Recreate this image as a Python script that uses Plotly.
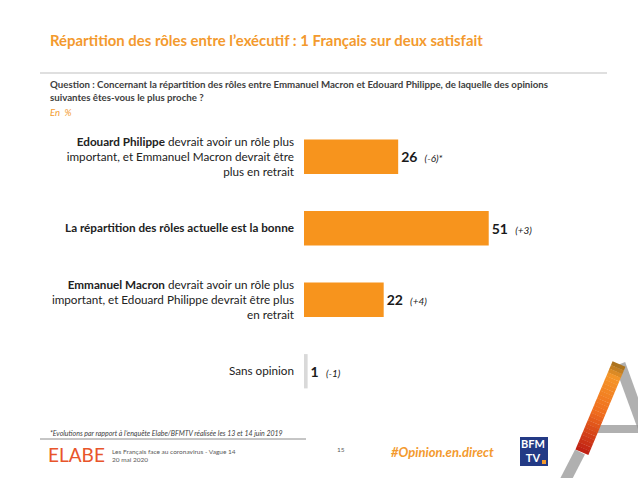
import plotly.graph_objects as go

# ---- data ----
categories = [
    "<b>Edouard Philippe</b> devrait avoir un rôle plus<br>important, et Emmanuel Macron devrait être<br>plus en retrait",
    "<b>La répartition des rôles actuelle est la bonne</b>",
    "<b>Emmanuel Macron</b> devrait avoir un rôle plus<br>important, et Edouard Philippe devrait être plus<br>en retrait",
    "Sans opinion",
]
values = [26, 51, 22, 1]
evolutions = ["(-6)*", "(+3)", "(+4)", "(-1)"]

title_text = "<b>Répartition des rôles entre l’exécutif : 1 Français sur deux satisfait</b>"
question_text = ("<b>Question : Concernant la répartition des rôles entre Emmanuel Macron et Edouard Philippe, "
                 "de laquelle des opinions<br>suivantes êtes-vous le plus proche ?</b>")
unit_text = "<i>En  %</i>"
footnote_text = "<i>*Evolutions par rapport à l’enquête Elabe/BFMTV réalisée les 13 et 14 juin 2019</i>"
source_text = "Les Français face au coronavirus - Vague 14<br>20 mai 2020"
page_text = "15"
hashtag_text = "<b><i>#Opinion.en.direct</i></b>"

ORANGE = "#F7941D"
GREY_BAR = "#D9D9D9"
FONT = "Lato"

W, H = 638, 478
L, R, T, B = 304, 8, 121, 71
PW, PH = W - L - R, H - T - B


def px(x):
    return (x - L) / PW


def py(y):
    return 1 - (y - T) / PH


bar_colors = [ORANGE, ORANGE, ORANGE, GREY_BAR]
bar_text = [f"<b>{v}</b>  <span style='font-size:10px'><i>{e}</i></span>" for v, e in zip(values, evolutions)]

fig = go.Figure()
fig.add_trace(go.Bar(
    x=values,
    y=list(range(len(categories))),
    orientation="h",
    marker=dict(color=bar_colors, line=dict(width=0)),
    width=0.48,
    text=bar_text,
    textposition="outside",
    textfont=dict(family=FONT, size=14, color="#1a1a1a"),
    constraintext="none",
    cliponaxis=False,
    hoverinfo="skip",
))

fig.update_layout(
    width=W, height=H,
    margin=dict(l=L, r=R, t=T, b=B, pad=0),
    paper_bgcolor="white", plot_bgcolor="white",
    showlegend=False,
    font=dict(family=FONT, color="#222222"),
    xaxis=dict(range=[0, 90], visible=False, fixedrange=True),
    yaxis=dict(
        range=[3.5, -0.5],
        tickmode="array",
        tickvals=list(range(len(categories))),
        ticktext=categories,
        tickfont=dict(family=FONT, size=11.7, color="#222222"),
        showgrid=False, zeroline=False, showline=False,
        ticks="", ticklabelstandoff=9,
        fixedrange=True,
    ),
)

ann = []
ann.append(dict(text=title_text, x=px(48), y=py(40), xanchor="left", yanchor="middle",
                font=dict(family=FONT, size=14.9, color="#F39A2E")))
ann.append(dict(text=question_text, x=px(48), y=py(91), xanchor="left", yanchor="middle", align="left",
                font=dict(family=FONT, size=9.7, color="#404040")))
ann.append(dict(text=unit_text, x=px(48), y=py(112), xanchor="left", yanchor="middle",
                font=dict(family=FONT, size=9.5, color="#F39A2E")))
ann.append(dict(text=footnote_text, x=px(48), y=py(433), xanchor="left", yanchor="middle",
                font=dict(family=FONT, size=7, color="#404040")))
ann.append(dict(text="ELABE", x=px(46), y=py(454), xanchor="left", yanchor="middle",
                font=dict(family=FONT, size=19, color="#E8552B")))
ann.append(dict(text=source_text, x=px(110), y=py(455), xanchor="left", yanchor="middle", align="left",
                font=dict(family=FONT, size=6.5, color="#595959")))
ann.append(dict(text=page_text, x=px(335), y=py(449), xanchor="left", yanchor="middle",
                font=dict(family=FONT, size=6.5, color="#595959")))
ann.append(dict(text=hashtag_text, x=px(389), y=py(452), xanchor="left", yanchor="middle",
                font=dict(family=FONT, size=13, color="#F39A2E")))
ann.append(dict(text="<b>BFM<br>TV</b>", x=px(533), y=py(451), xanchor="center", yanchor="middle",
                font=dict(family=FONT, size=11, color="white")))
for a in ann:
    a.update(xref="paper", yref="paper", showarrow=False)
fig.update_layout(annotations=ann)

shapes = []
# separator line under title
shapes.append(dict(type="line", x0=px(40), x1=px(607), y0=py(73), y1=py(73),
                   line=dict(color="#BFBFBF", width=1)))
# footnote underline
shapes.append(dict(type="line", x0=px(40), x1=px(306), y0=py(439), y1=py(439),
                   line=dict(color="#8C8C8C", width=1)))
# BFM TV logo box
shapes.append(dict(type="rect", x0=px(520), x1=px(548), y0=py(466), y1=py(437),
                   fillcolor="#233A85", line=dict(width=0)))
shapes.append(dict(type="rect", x0=px(542), x1=px(546), y0=py(464), y1=py(460),
                   fillcolor="#F39A2E", line=dict(width=0)))
# decorative "A" logo
grey = "rgba(150,150,150,0.75)"
shapes.append(dict(type="line", x0=px(620), y0=py(364), x1=px(644), y1=py(430),
                   line=dict(color=grey, width=11)))
shapes.append(dict(type="line", x0=px(580), y0=py(452), x1=px(563), y1=py(485),
                   line=dict(color=grey, width=11)))
shapes.append(dict(type="line", x0=px(594), y0=py(429), x1=px(640), y1=py(429),
                   line=dict(color=grey, width=8)))


def mix(c1, c2, t):
    return "rgb(%d,%d,%d)" % tuple(round(a + (b - a) * t) for a, b in zip(c1, c2))


stops = [(0.0, (160, 110, 30)), (0.15, (245, 150, 40)), (0.55, (240, 110, 30)), (1.0, (190, 30, 20))]
n = 24
for i in range(n):
    t = (i + 0.5) / n
    for (t0, c0), (t1, c1) in zip(stops[:-1], stops[1:]):
        if t0 <= t <= t1:
            col = mix(c0, c1, (t - t0) / (t1 - t0))
            break
    xa = 619 + (582 - 619) * i / n
    ya = 364 + (452 - 364) * i / n
    xb = 619 + (582 - 619) * (i + 1.05) / n
    yb = 364 + (452 - 364) * (i + 1.05) / n
    shapes.append(dict(type="line", x0=px(xa), y0=py(ya), x1=px(xb), y1=py(yb),
                       line=dict(color=col, width=14)))
for s in shapes:
    s.update(xref="paper", yref="paper", layer="above")
fig.update_layout(shapes=shapes)

fig.write_html("out.html", config={"displayModeBar": False},
               post_script="document.body.style.margin='0';")
